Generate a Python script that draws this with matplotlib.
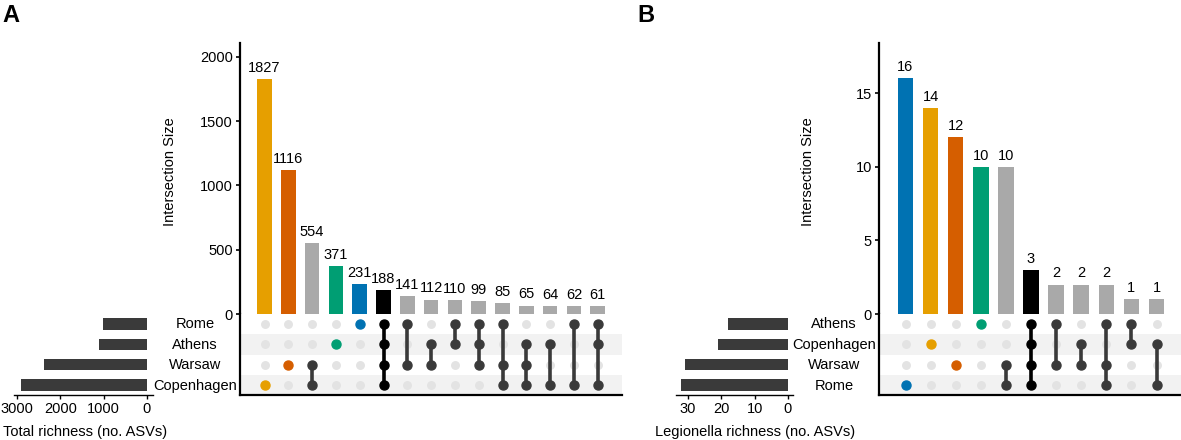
import matplotlib
matplotlib.use("Agg")
import matplotlib.pyplot as plt

plt.rcParams["font.family"] = ["Liberation Sans", "DejaVu Sans"]

# ---- data, panel A ----
a_sets = ["Rome", "Athens", "Warsaw", "Copenhagen"]
a_set_sizes = [1010, 1105, 2375, 2905]
a_sizes = [1827, 1116, 554, 371, 231, 188, 141, 112, 110, 99, 85, 65, 64, 62, 61]
a_members = [
    ["Copenhagen"], ["Warsaw"], ["Warsaw", "Copenhagen"], ["Athens"], ["Rome"],
    ["Rome", "Athens", "Warsaw", "Copenhagen"], ["Rome", "Warsaw"],
    ["Athens", "Warsaw"], ["Rome", "Athens"], ["Rome", "Athens", "Warsaw"],
    ["Rome", "Warsaw", "Copenhagen"], ["Athens", "Warsaw", "Copenhagen"],
    ["Athens", "Copenhagen"], ["Rome", "Copenhagen"], ["Rome", "Athens", "Copenhagen"],
]
a_set_ticks = [3000, 2000, 1000, 0]
a_size_ticks = [0, 500, 1000, 1500, 2000]

# ---- data, panel B ----
b_sets = ["Athens", "Copenhagen", "Warsaw", "Rome"]
b_set_sizes = [18, 21, 31, 32]
b_sizes = [16, 14, 12, 10, 10, 3, 2, 2, 2, 1, 1]
b_members = [
    ["Rome"], ["Copenhagen"], ["Warsaw"], ["Athens"], ["Warsaw", "Rome"],
    ["Athens", "Copenhagen", "Warsaw", "Rome"], ["Athens", "Warsaw"],
    ["Copenhagen", "Warsaw"], ["Athens", "Warsaw", "Rome"],
    ["Athens", "Copenhagen"], ["Copenhagen", "Rome"],
]
b_set_ticks = [30, 20, 10, 0]
b_size_ticks = [0, 5, 10, 15]

set_colors = {
    "Rome": "#0072B2",
    "Copenhagen": "#E69F00",
    "Warsaw": "#D55E00",
    "Athens": "#009E73",
}

W, H = 1181, 440
FS = 10.5


def box(x0, y0, x1, y1):
    return [x0 / W, 1 - y1 / H, (x1 - x0) / W, (y1 - y0) / H]


def draw_upset(fig, sets, set_sizes, sizes, members, set_ticks, size_ticks,
               bar_px, ymax, set_px, set_lim, label_x, ylabel_x, xlabel, xlabel_x,
               col0, step):
    x0, x1 = bar_px
    lo = -(col0 - x0) / step
    hi = lo + (x1 - x0) / step

    # intersection bars
    ax = fig.add_axes(box(x0, 43, x1, 314))
    for i, (v, m) in enumerate(zip(sizes, members)):
        if len(m) == 1:
            c = set_colors[m[0]]
        elif len(m) == len(sets):
            c = "black"
        else:
            c = "#A9A9A9"
        ax.bar(i, v, width=0.62, color=c)
        ax.annotate(str(v), (i, v), xytext=(0, 3), textcoords="offset points",
                    ha="center", va="bottom", fontsize=FS)
    ax.set_xlim(lo, hi)
    ax.set_ylim(0, ymax)
    ax.set_yticks(size_ticks)
    ax.set_xticks([])
    for s in ["top", "right", "bottom"]:
        ax.spines[s].set_visible(False)
    ax.spines["left"].set_linewidth(1.6)
    ax.tick_params(axis="y", length=3, width=1.2, labelsize=FS, pad=2)
    fig.text(ylabel_x / W, 1 - 172 / H, "Intersection Size", rotation=90,
             ha="center", va="center", fontsize=FS)

    # matrix
    mx = fig.add_axes(box(x0, 314, x1, 395))
    mx.set_xlim(lo, hi)
    mx.set_ylim(3.5, -0.5)
    for r in [1, 3]:
        mx.axhspan(r - 0.5, r + 0.5, color="#F2F2F2", lw=0, zorder=0)
    for i, m in enumerate(members):
        rows = [sets.index(s) for s in m]
        full = len(m) == len(sets)
        dark = "black" if full else "#3A3A3A"
        for r in range(len(sets)):
            if r not in rows:
                mx.plot(i, r, "o", color="#E3E3E3", ms=5.4, zorder=1)
        if len(m) == 1:
            mx.plot(i, rows[0], "o", color=set_colors[m[0]], ms=6.5, zorder=3)
        else:
            mx.plot([i, i], [min(rows), max(rows)], color=dark, lw=2.6, zorder=2)
            mx.plot([i] * len(rows), rows, "o", color=dark, ms=6.5, zorder=3)
    mx.set_xticks([])
    mx.set_yticks([])
    mx.spines["top"].set_visible(False)
    mx.spines["right"].set_visible(False)
    mx.spines["left"].set_linewidth(1.6)
    mx.spines["bottom"].set_linewidth(1.6)

    # set sizes
    sx = fig.add_axes(box(set_px[0], 314, set_px[1], 395))
    sx.barh(range(len(sets)), set_sizes, height=0.58, color="#3A3A3A")
    sx.set_xlim(*set_lim)
    sx.set_ylim(3.5, -0.5)
    sx.set_xticks(set_ticks)
    sx.set_yticks([])
    for s in ["top", "right", "left"]:
        sx.spines[s].set_visible(False)
    sx.spines["bottom"].set_linewidth(1.0)
    sx.tick_params(axis="x", length=3, width=1.0, labelsize=FS, pad=2)
    for r, name in enumerate(sets):
        fig.text(label_x / W, 1 - (324 + r * 20.5) / H, name, ha="center",
                 va="center", fontsize=FS)
    fig.text(xlabel_x / W, 1 - 432 / H, xlabel, ha="center", va="center",
             fontsize=FS)


fig = plt.figure(figsize=(W / 100, H / 100), dpi=100)

draw_upset(fig, a_sets, a_set_sizes, a_sizes, a_members, a_set_ticks, a_size_ticks,
           bar_px=(240, 622), ymax=2107, set_px=(14, 153), set_lim=(3070, -140),
           label_x=195, ylabel_x=170, xlabel="Total richness (no. ASVs)",
           xlabel_x=85, col0=264.5, step=23.8)

draw_upset(fig, b_sets, b_set_sizes, b_sizes, b_members, b_set_ticks, b_size_ticks,
           bar_px=(879, 1181), ymax=18.4, set_px=(676, 793), set_lim=(33.6, -1.5),
           label_x=834, ylabel_x=808, xlabel="Legionella richness (no. ASVs)",
           xlabel_x=755, col0=905.5, step=25.1)

fig.text(2 / W, 1 - 16 / H, "A", fontsize=17, fontweight="bold", ha="left", va="center")
fig.text(637 / W, 1 - 16 / H, "B", fontsize=17, fontweight="bold", ha="left", va="center")

fig.savefig("out.png", dpi=100)
